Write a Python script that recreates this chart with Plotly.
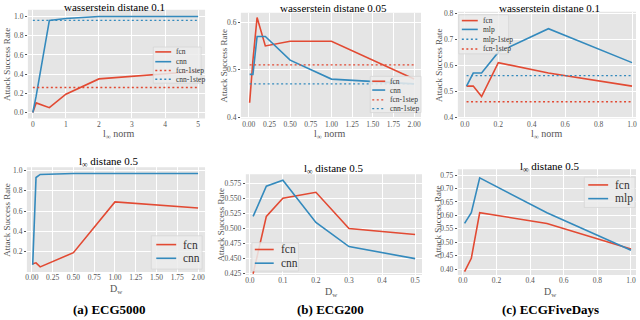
import plotly.graph_objects as go

RED = "#E24A33"
BLUE = "#348ABD"
GREY = "#555555"
FONT = "Liberation Serif"

# (a) ECG5000, wasserstein 0.1
a1_x = [0.0, 0.1, 0.5, 1, 2, 5]
a1_fcn = [0.0, 0.10, 0.05, 0.19, 0.35, 0.43]
a1_cnn = [0.0, 0.17, 0.96, 0.98, 1.0, 1.0]
a1_fcn_1step = 0.26
a1_cnn_1step = 0.96

# (b) ECG200, wasserstein 0.05
b1_x = [0.01, 0.05, 0.1, 0.2, 0.5, 1.0, 2.0]
b1_fcn = [0.43, 0.52, 0.61, 0.55, 0.56, 0.56, 0.48]
b1_cnn = [0.49, 0.49, 0.57, 0.57, 0.52, 0.48, 0.47]
b1_fcn_1step = 0.51
b1_cnn_1step = 0.47

# (c) ECGFiveDays, wasserstein 0.1
c1_x = [0.01, 0.05, 0.1, 0.2, 0.5, 1.0]
c1_fcn = [0.52, 0.52, 0.48, 0.61, 0.57, 0.52]
c1_mlp = [0.52, 0.57, 0.57, 0.65, 0.74, 0.61]
c1_mlp_1step = 0.56
c1_fcn_1step = 0.46

# (a) ECG5000, l_inf 0.5
a2_x = [0.01, 0.05, 0.1, 0.5, 1.0, 2.0]
a2_fcn = [0.08, 0.09, 0.05, 0.19, 0.69, 0.63]
a2_cnn = [0.07, 0.93, 0.96, 0.97, 0.97, 0.97]

# (b) ECG200, l_inf 0.5
b2_x = [0.01, 0.05, 0.1, 0.2, 0.3, 0.5]
b2_fcn = [0.425, 0.52, 0.55, 0.56, 0.50, 0.49]
b2_cnn = [0.52, 0.57, 0.58, 0.51, 0.47, 0.45]

# (c) ECGFiveDays, l_inf 0.5
c2_x = [0.01, 0.05, 0.1, 0.5, 1.0]
c2_fcn = [0.39, 0.44, 0.61, 0.57, 0.475]
c2_mlp = [0.57, 0.61, 0.74, 0.61, 0.47]

titles = ["wasserstein distane 0.1", "wasserstein distane 0.05", "wasserstein distane 0.1",
          "l<sub>∞</sub> distane 0.5", "l<sub>∞</sub> distane 0.5", "l<sub>∞</sub> distane 0.5"]
captions = ["(a) ECG5000", "(b) ECG200", "(c) ECGFiveDays"]
xtitles = ["l<sub>∞</sub> norm"] * 3 + ["D<sub>w</sub>"] * 3
ytitle = "Attack Success Rate"

W, H = 640, 320
fig = go.Figure()

# pixel boxes of the six panels: left, right, top, bottom
boxes = [(26, 204, 7, 118), (240, 421, 10, 118), (458, 637, 9, 118),
         (25, 204, 168, 275), (245, 422, 175, 278), (458, 637, 170, 278)]
title_pos = [(113, 4), (333, 5), (550, 5), (107, 163), (333, 170), (550, 168)]
xlabel_pos = [(118, 134), (330, 134), (548, 134), (115, 293), (331, 296), (551, 296)]
ylabel_x = [5, 223, 439, 5, 220, 438]
caption_pos = [(108, 313), (330, 313), (551, 313)]

SOLID, DOT = None, "2px,2.5px"


def line(i, x, y, color, dash=SOLID, width=1.6):
    ax = "" if i == 1 else str(i)
    fig.add_trace(go.Scatter(
        x=x, y=y, mode="lines", showlegend=False, hoverinfo="skip",
        line=dict(color=color, width=width, dash=dash),
        xaxis="x" + ax, yaxis="y" + ax))


line(1, a1_x, a1_fcn, RED)
line(1, a1_x, a1_cnn, BLUE)
line(1, [0, 5], [a1_fcn_1step] * 2, RED, DOT, 1.4)
line(1, [0, 5], [a1_cnn_1step] * 2, BLUE, DOT, 1.4)

line(2, b1_x, b1_fcn, RED)
line(2, b1_x, b1_cnn, BLUE)
line(2, [0.01, 2], [b1_fcn_1step] * 2, RED, DOT, 1.4)
line(2, [0.01, 2], [b1_cnn_1step] * 2, BLUE, DOT, 1.4)

line(3, c1_x, c1_fcn, RED)
line(3, c1_x, c1_mlp, BLUE)
line(3, [0.01, 1], [c1_mlp_1step] * 2, BLUE, DOT, 1.4)
line(3, [0.01, 1], [c1_fcn_1step] * 2, RED, DOT, 1.4)

line(4, a2_x, a2_fcn, RED)
line(4, a2_x, a2_cnn, BLUE)

line(5, b2_x, b2_fcn, RED)
line(5, b2_x, b2_cnn, BLUE)

line(6, c2_x, c2_fcn, RED)
line(6, c2_x, c2_mlp, BLUE)

xranges = [[-0.15, 5.21], [-0.096, 2.084], [-0.042, 1.024], [-0.06, 2.084], [-0.012, 0.521], [-0.03, 1.03]]
yranges = [[-0.062, 1.07], [0.397, 0.62], [0.396, 0.805], [0.0, 1.03], [0.423, 0.59], [0.378, 0.772]]
xticks = [
    dict(tickvals=[0, 1, 2, 3, 4, 5]),
    dict(tickvals=[0, 0.25, 0.5, 0.75, 1, 1.25, 1.5, 1.75, 2], tickformat=".2f"),
    dict(tickvals=[0, 0.2, 0.4, 0.6, 0.8, 1.0], tickformat=".1f"),
    dict(tickvals=[0, 0.25, 0.5, 0.75, 1, 1.25, 1.5, 1.75, 2], tickformat=".2f"),
    dict(tickvals=[0, 0.1, 0.2, 0.3, 0.4, 0.5], tickformat=".1f"),
    dict(tickvals=[0, 0.2, 0.4, 0.6, 0.8, 1.0], tickformat=".1f"),
]
yticks = [
    dict(tickvals=[0, 0.2, 0.4, 0.6, 0.8, 1.0], tickformat=".1f"),
    dict(tickvals=[0.4, 0.5, 0.6], tickformat=".1f"),
    dict(tickvals=[0.4, 0.5, 0.6, 0.7, 0.8], tickformat=".1f"),
    dict(tickvals=[0.2, 0.4, 0.6, 0.8, 1.0], tickformat=".1f"),
    dict(tickvals=[0.425, 0.45, 0.475, 0.5, 0.525, 0.55, 0.575], tickformat=".3f"),
    dict(tickvals=[0.4, 0.45, 0.5, 0.55, 0.6, 0.65, 0.7, 0.75], tickformat=".2f"),
]


def px(x):
    return x / W


def py(y):
    return 1 - y / H


layout = {}
ann = []
shapes = []
for i, (l, r, t, b) in enumerate(boxes):
    ax = "" if i == 0 else str(i + 1)
    common = dict(showgrid=True, gridcolor="white", gridwidth=1, zeroline=False,
                  tickcolor=GREY, showline=False,
                  tickfont=dict(size=7.5, color=GREY, family=FONT))
    layout["xaxis" + ax] = dict(domain=[px(l), px(r)], range=xranges[i], anchor="y" + ax,
                                ticks="", **common, **xticks[i])
    layout["yaxis" + ax] = dict(domain=[py(b), py(t)], range=yranges[i], anchor="x" + ax,
                                ticks="outside", ticklen=2, **common, **yticks[i])
    shapes.append(dict(type="rect", xref="paper", yref="paper",
                       x0=px(l), x1=px(r), y0=py(b), y1=py(t),
                       fillcolor="#E5E5E5", line_width=0, layer="below"))
    ann.append(dict(text=titles[i], x=px(title_pos[i][0]), y=py(title_pos[i][1]),
                    xanchor="center", yanchor="middle",
                    font=dict(size=11, color="black")))
    ann.append(dict(text=xtitles[i], x=px(xlabel_pos[i][0]), y=py(xlabel_pos[i][1]),
                    xanchor="center", yanchor="middle",
                    font=dict(size=10, color=GREY)))
    ann.append(dict(text=ytitle, x=px(ylabel_x[i]), y=py((t + b) / 2), textangle=-90,
                    xanchor="center", yanchor="middle",
                    font=dict(size=9, color=GREY)))

for cap, (cx, cy) in zip(captions, caption_pos):
    ann.append(dict(text="<b>" + cap + "</b>", x=px(cx), y=py(cy),
                    xanchor="center", yanchor="middle",
                    font=dict(size=13, color="black")))

# hand-drawn legends: box (l, t, r, b), rows y, sample x0, x1, text x, font size, entries
legends = [
    ((152, 45, 200, 82), [50, 60, 69, 78], 154, 170, 173, 7.5,
     [("fcn", RED, SOLID), ("cnn", BLUE, SOLID), ("fcn-1step", RED, DOT), ("cnn-1step", BLUE, DOT)]),
    ((370, 75, 421, 112), [80, 89, 99, 108], 372, 385, 388, 7.5,
     [("fcn", RED, SOLID), ("cnn", BLUE, SOLID), ("fcn-1step", RED, DOT), ("cnn-1step", BLUE, DOT)]),
    ((459, 12, 509, 52), [18, 27, 37, 47], 462, 478, 481, 7.5,
     [("fcn", RED, SOLID), ("mlp", BLUE, SOLID), ("mlp-1step", BLUE, DOT), ("fcn-1step", RED, DOT)]),
    ((150, 238, 201, 272), [247, 261], 155, 175, 180, 11.5,
     [("fcn", RED, SOLID), ("cnn", BLUE, SOLID)]),
    ((251, 245, 298, 274), [252, 266], 254, 273, 278, 11.5,
     [("fcn", RED, SOLID), ("cnn", BLUE, SOLID)]),
    ((585, 178, 636, 209), [186, 200], 589, 609, 614, 11.5,
     [("fcn", RED, SOLID), ("mlp", BLUE, SOLID)]),
]
for (l, t, r, b), rows, s0, s1, tx, fs, entries in legends:
    shapes.append(dict(type="rect", xref="paper", yref="paper",
                       x0=px(l), x1=px(r), y0=py(b), y1=py(t),
                       fillcolor="rgba(236,236,236,0.85)",
                       line=dict(color="#D6D6D6", width=0.8)))
    for yy, (name, color, dash) in zip(rows, entries):
        shapes.append(dict(type="line", xref="paper", yref="paper",
                           x0=px(s0), x1=px(s1), y0=py(yy), y1=py(yy),
                           line=dict(color=color, width=1.6 if dash is None else 1.4,
                                     dash="solid" if dash is None else dash)))
        ann.append(dict(text=name, x=px(tx), y=py(yy), xanchor="left", yanchor="middle",
                        font=dict(size=fs, color="#333333")))

for a in ann:
    a.update(xref="paper", yref="paper", showarrow=False)

fig.update_layout(
    width=W, height=H, margin=dict(l=0, r=0, t=0, b=0),
    paper_bgcolor="white", plot_bgcolor="rgba(0,0,0,0)",
    font=dict(family=FONT), annotations=ann, shapes=shapes,
    showlegend=False, **layout)

# the page's default 8px body margin would shift the whole figure
fig.write_html("out.html", config={"displayModeBar": False},
               post_script="document.body.style.margin = '0';")
